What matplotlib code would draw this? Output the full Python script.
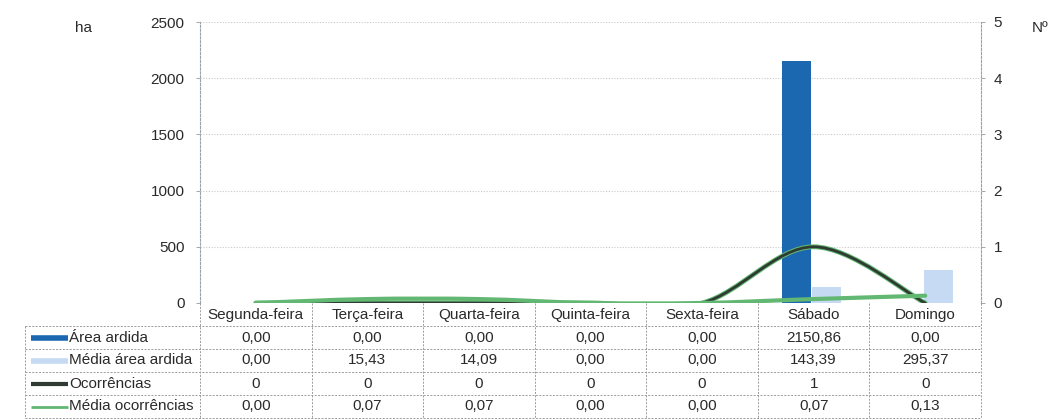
import numpy as np
import matplotlib.pyplot as plt
import matplotlib.patheffects as pe
from matplotlib.path import Path
from matplotlib.patches import PathPatch
from matplotlib.lines import Line2D

plt.rcParams["font.family"] = ["Liberation Sans", "DejaVu Sans"]

days = ["Segunda-feira", "Terça-feira", "Quarta-feira", "Quinta-feira",
        "Sexta-feira", "Sábado", "Domingo"]
area_ardida = [0.00, 0.00, 0.00, 0.00, 0.00, 2150.86, 0.00]
media_area = [0.00, 15.43, 14.09, 0.00, 0.00, 143.39, 295.37]
ocorrencias = [0, 0, 0, 0, 0, 1, 0]
media_ocorr = [0.00, 0.07, 0.07, 0.00, 0.00, 0.07, 0.13]

row_names = ["Área ardida", "Média área ardida", "Ocorrências", "Média ocorrências"]
row_text = [
    [f"{v:.2f}".replace(".", ",") for v in area_ardida],
    [f"{v:.2f}".replace(".", ",") for v in media_area],
    [str(v) for v in ocorrencias],
    [f"{v:.2f}".replace(".", ",") for v in media_ocorr],
]

c_dark = "#1c68b0"
c_light = "#c6daf3"
c_black = "#2f3a33"
c_green = "#62b872"
grid_c = "#c8c8c8"
txt_c = "#2a2a2a"

W, H = 1060, 420
fig = plt.figure(figsize=(W / 100, H / 100), dpi=100)


def fx(x):
    return x / W


def fy(y):
    return 1 - y / H


L, R, T, B = 200, 981, 22, 303
ax = fig.add_axes([fx(L), fy(B), fx(R) - fx(L), fy(T) - fy(B)])
ax2 = ax.twinx()

n = len(days)
x = np.arange(n)
ax.set_xlim(-0.5, n - 0.5)
ax.set_ylim(0, 2500)
ax2.set_ylim(0, 5)

ax.set_yticks(np.arange(0, 2501, 500))
ax2.set_yticks(np.arange(0, 6, 1))
ax.yaxis.grid(True, color=grid_c, linestyle=(0, (1, 1.5)), linewidth=0.8)
ax.set_axisbelow(True)
ax.set_xticks([])
ax2.set_xticks([])

for a in (ax, ax2):
    for s in a.spines.values():
        s.set_visible(False)
    a.tick_params(axis="y", length=3, width=0.6, color="#999999",
                  labelsize=11, labelcolor=txt_c, pad=8)
ax2.tick_params(axis="y", pad=6)
for sp in (ax.spines["left"], ax2.spines["right"]):
    sp.set_visible(True)
    sp.set_color("#9aa0b0")
    sp.set_linestyle((0, (2, 1.5)))
    sp.set_linewidth(0.8)

bw = 0.26
ax.bar(x - 0.155, area_ardida, width=bw, color=c_dark, zorder=2)
ax.bar(x + 0.115, media_area, width=bw, color=c_light, zorder=2)


def smooth_path(xs, ys):
    pts = np.column_stack([xs, ys]).astype(float)
    verts = [pts[0]]
    codes = [Path.MOVETO]
    m = len(pts)
    for i in range(m - 1):
        p0 = pts[i - 1] if i > 0 else pts[i]
        p1 = pts[i]
        p2 = pts[i + 1]
        p3 = pts[i + 2] if i + 2 < m else pts[i + 1]
        c1 = p1 + (p2 - p0) / 6
        c2 = p2 - (p3 - p1) / 6
        verts += [c1, c2, p2]
        codes += [Path.CURVE4] * 3
    return Path(verts, codes)


occ = PathPatch(smooth_path(x, ocorrencias), fill=False,
                edgecolor=c_black, linewidth=2, zorder=3, capstyle="round")
occ.set_path_effects([pe.Stroke(linewidth=3.5, foreground=c_green), pe.Normal()])
ax2.add_patch(occ)
ax2.add_patch(PathPatch(smooth_path(x, media_ocorr), fill=False,
                        edgecolor=c_green, linewidth=3, zorder=4,
                        capstyle="round"))

fig.text(fx(75), fy(28), "ha", fontsize=11, color=txt_c, va="center")
fig.text(fx(1032), fy(28), "Nº", fontsize=11, color=txt_c, va="center")

# data table
col_w = (R - L) / n
row_y = [303, 326, 349, 372, 395, 418]
line_kw = dict(color="#9a9a9a", linewidth=0.7, linestyle=(0, (2, 1.5)))

for yb in row_y[1:]:
    fig.add_artist(Line2D([fx(25), fx(R)], [fy(yb), fy(yb)], **line_kw))
fig.add_artist(Line2D([fx(25), fx(25)], [fy(326), fy(418)], **line_kw))
for j in range(n + 1):
    xv = L + j * col_w
    fig.add_artist(Line2D([fx(xv), fx(xv)], [fy(303), fy(418)], **line_kw))

for j, d in enumerate(days):
    cx = L + (j + 0.5) * col_w
    fig.text(fx(cx), fy(315), d, ha="center", va="center",
             fontsize=11, color=txt_c)

swatches = [
    dict(color=c_dark, linewidth=4),
    dict(color=c_light, linewidth=4),
    dict(color=c_black, linewidth=3),
    dict(color=c_green, linewidth=2),
]
for i, name in enumerate(row_names):
    cy = (row_y[i + 1] + row_y[i + 2]) / 2
    fig.add_artist(Line2D([fx(31), fx(68)], [fy(cy), fy(cy)],
                          solid_capstyle="butt", **swatches[i]))
    fig.text(fx(69), fy(cy), name, ha="left", va="center",
             fontsize=11, color=txt_c)
    for j in range(n):
        cx = L + (j + 0.5) * col_w
        fig.text(fx(cx), fy(cy), row_text[i][j], ha="center", va="center",
                 fontsize=11, color=txt_c)

fig.savefig("out.png", dpi=100, facecolor="white")
